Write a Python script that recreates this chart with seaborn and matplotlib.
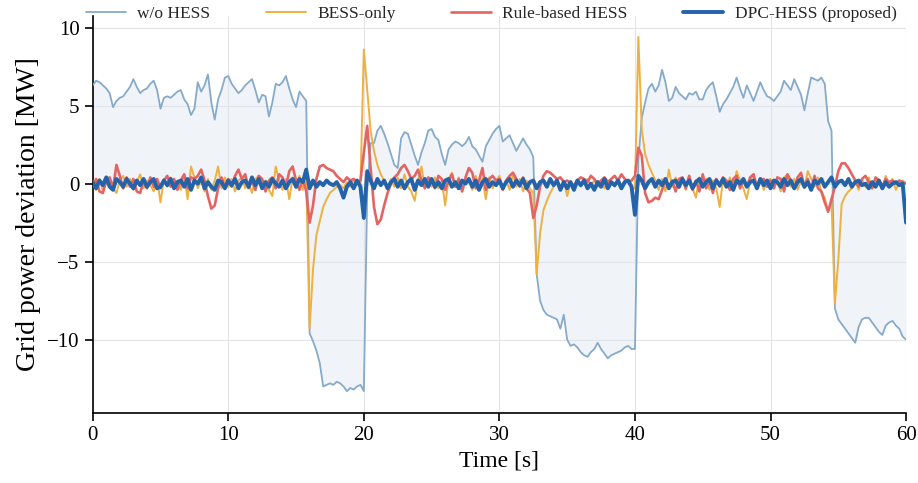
import numpy as np
import pandas as pd
import matplotlib
matplotlib.use("Agg")
import matplotlib.pyplot as plt
import seaborn as sns

# time grid (s), 0.25 s step
time_s = np.arange(0, 60.001, 0.25)

wo_hess = [
    6.3, 6.6, 6.5, 6.3, 6.1, 5.8, 4.9, 5.3, 5.5, 5.6, 5.9, 6.2, 6.7, 6.2, 5.8, 6.0, 6.1, 6.4, 6.6, 6.0,
    4.8, 5.5, 5.6, 5.5, 5.7, 5.9, 6.0, 5.4, 5.1, 4.4, 4.8, 6.5, 5.9, 6.3, 7.0, 5.2, 4.1, 5.4, 6.0, 6.8,
    6.9, 6.4, 6.1, 5.8, 6.0, 6.3, 6.5, 6.7, 6.0, 5.2, 5.7, 5.6, 4.3, 5.2, 6.4, 6.3, 6.5, 6.9, 6.1, 5.4,
    4.9, 5.9, 5.6, 5.3, -9.6, -10.1, -10.7, -11.5, -13.0, -12.9, -12.8, -12.9, -12.7, -12.8, -13.0, -13.3, -13.1, -13.2, -13.0, -12.9,
    -13.3, -0.5, 2.6, 2.6, 3.4, 3.7, 3.2, 2.6, 1.9, 1.2, 1.0, 2.9, 3.3, 3.2, 2.5, 1.8, 1.2, 2.0, 2.6, 3.4,
    3.5, 3.0, 2.8, 1.9, 1.2, 2.2, 2.5, 2.7, 2.6, 2.4, 2.6, 3.0, 2.4, 2.2, 1.8, 1.4, 2.4, 2.8, 3.2, 3.5,
    3.7, 2.7, 2.9, 3.1, 2.6, 2.1, 2.5, 2.9, 2.5, 2.2, 1.7, -5.8, -7.5, -8.1, -8.4, -8.5, -8.6, -8.7, -9.3, -8.4,
    -10.0, -10.4, -10.3, -10.5, -10.8, -11.0, -11.1, -10.8, -10.6, -10.2, -10.6, -10.9, -11.2, -11.0, -10.9, -10.8, -10.7, -10.5, -10.4, -10.6,
    -10.6, 1.5, 4.2, 5.2, 6.1, 6.4, 5.9, 6.3, 7.3, 6.5, 5.3, 5.5, 6.2, 5.8, 5.6, 5.4, 5.8, 5.7, 5.9, 5.4,
    5.4, 6.0, 6.3, 6.5, 5.6, 4.6, 5.1, 5.4, 5.8, 6.2, 6.8, 6.1, 5.5, 6.3, 5.8, 5.3, 5.9, 6.5, 6.0, 5.6,
    5.5, 5.3, 5.6, 5.9, 6.6, 6.3, 6.0, 6.7, 6.2, 5.7, 4.7, 5.8, 6.8, 6.7, 6.6, 6.8, 6.4, 4.0, 3.4, -8.0,
    -8.7, -9.0, -9.3, -9.6, -9.9, -10.2, -9.2, -8.7, -8.6, -8.6, -8.9, -9.2, -9.5, -9.7, -9.1, -8.9, -8.8, -9.1, -9.3, -9.8,
    -10.0,
]

bess_only = [
    0.2, -0.4, 0.3, -0.5, 0.1, 0.4, -0.3, -0.6, 0.2, 0.5, -0.2, 0.3, -0.4, 0.1, 0.6, -0.3, 0.2, -0.1, -0.5, 0.3,
    -1.2, 0.3, -0.2, 0.4, -0.3, 0.2, -0.4, 0.5, -1.0, 1.1, 0.4, -0.3, 0.2, -0.5, 0.3, -0.4, 0.2, 1.1, -0.3, 0.4,
    -0.2, 0.3, -0.5, 0.2, 0.4, -0.3, 0.1, -0.6, 0.3, 0.5, -0.2, 0.2, -0.4, -0.8, 1.1, 0.2, -0.4, 0.3, -1.0, 0.4,
    -0.3, 0.5, -0.4, 0.3, -9.3, -5.5, -3.3, -2.4, -1.5, -1.0, -0.6, -0.4, -0.2, -0.1, -0.3, 0.1, -0.2, 0.2, 0.1, -0.1,
    8.6, 6.0, 3.4, 2.1, 1.2, 0.6, 0.2, -0.3, 0.3, -0.2, 0.4, -0.3, 0.6, -0.2, -0.5, -1.1, 0.2, 1.1, -0.3, 0.3,
    -0.2, 0.4, -0.3, 0.2, -1.4, 0.3, 0.7, -0.2, 0.4, -0.5, 0.2, 0.3, -0.4, 0.5, -0.2, 0.3, -1.0, 0.4, -0.3, 0.2,
    0.5, -0.3, 0.2, -0.4, 0.6, -0.2, 0.3, -0.5, 0.2, -0.3, -0.6, -5.8, -3.2, -1.7, -1.1, -0.6, -0.2, 0.3, -0.3, 0.2,
    -0.8, 0.1, -0.3, 0.2, -0.2, 0.1, 0.3, -0.1, 0.2, -0.2, 0.1, -0.3, 0.2, 0.1, -0.2, 0.3, -0.1, 0.2, 0.1, -0.3,
    -0.3, 9.4, 3.5, 1.9, 1.2, 0.7, 0.2, -0.4, 0.3, -0.5, 0.9, -0.2, 0.4, -0.3, 0.2, -0.4, 0.5, -0.3, -0.9, 0.4,
    -0.2, 0.3, -0.4, 0.2, -0.3, -1.5, 0.3, -0.2, 0.4, -0.3, 0.8, 0.2, -0.3, -1.0, 0.2, 0.6, -0.2, 0.3, -0.4, 0.2,
    0.3, -0.3, 0.2, -0.5, 0.4, 0.6, -0.2, 0.3, -0.4, 0.2, -0.3, 0.8, 0.3, -0.2, 0.4, -0.5, -0.9, -1.8, -1.2, -7.7,
    -4.9, -1.3, -0.8, -0.5, -0.3, 0.2, -0.4, 0.3, -0.2, 0.4, -0.3, 0.2, 0.1, -0.3, 0.5, -0.2, 0.3, -0.4, 0.1, 0.2,
    0.0,
]

rule_hess = [
    -0.2, 0.3, -0.5, -0.6, 0.2, 0.4, -0.3, 1.2, 0.5, -0.3, 0.4, -0.2, 0.3, -0.5, -0.6, 0.2, -0.3, 0.4, -0.2, 0.3,
    -0.3, 0.2, 0.5, -0.2, 0.3, -0.4, 0.2, 0.6, -0.3, 0.4, 0.3, 0.5, 0.9, 0.2, -0.8, -1.6, -1.4, -0.3, 0.4, -0.2,
    0.3, -0.2, 0.5, 0.9, 0.3, 0.6, -0.3, 0.2, -0.4, 0.5, 0.3, -0.5, 0.2, 0.4, -0.3, 0.6, 0.4, -0.2, 0.8, 1.1,
    0.2, -0.4, 0.3, -0.5, -2.5, -1.4, 0.3, 1.1, 1.2, 1.0, 0.9, 0.8, 0.5, 0.3, 0.1, 0.4, 0.2, 0.3, 0.1, 0.2,
    2.0, 3.7, 1.0, -1.5, -2.6, -2.3, -1.4, -0.6, 0.0, 0.4, 0.6, 1.0, 1.2, 0.8, 0.3, 0.5, 0.9, 0.2, -0.3, 0.4,
    0.2, -0.3, 0.5, 0.3, -0.4, 0.2, 0.6, -0.2, 0.3, -0.5, 0.4, 1.0, 0.7, -0.3, 0.2, 1.0, -0.4, 0.3, 0.5, 0.2,
    0.3, -0.4, 0.2, 0.5, 0.7, 0.3, -0.2, 0.4, -0.3, -0.6, -2.2, -1.4, -0.2, 0.5, 0.8, 0.7, 0.5, 0.3, 0.4, 0.1,
    0.2, 0.0, -0.1, 0.2, 0.4, 0.3, 0.1, 0.5, 0.3, 0.0, 0.2, 0.4, 0.1, 0.3, 0.5, 0.2, 0.6, 0.3, 0.1, 0.2,
    0.5, 2.3, 1.8, -0.6, -1.2, -1.1, -0.9, -1.0, -0.4, 0.3, -0.2, 0.2, -0.5, 0.3, 0.4, -0.3, 0.5, -0.4, 0.2, -0.5,
    0.6, -0.3, 0.2, -0.6, 0.3, -0.2, 0.4, 0.2, -0.4, 0.3, 0.5, -0.3, 0.2, -0.2, 0.4, 0.6, -0.3, 0.2, 0.3, -0.2,
    0.2, -0.3, 0.4, 0.3, -0.5, 0.6, 0.2, -0.3, 0.4, 0.7, -0.2, 0.3, -0.4, 0.5, -0.3, -0.5, -1.2, -1.8, -1.0, -0.2,
    0.8, 1.3, 1.3, 1.0, 0.6, 0.2, -0.2, 0.3, 0.5, 0.1, -0.3, 0.4, 0.2, -0.2, 0.3, 0.1, 0.2, 0.0, 0.2, 0.1,
    0.0,
]

dpc_hess = [
    0.1, -0.3, 0.2, -0.1, 0.4, -0.2, -0.4, 0.3, 0.1, -0.2, 0.3, 0.0, -0.3, 0.2, -0.1, 0.3, -0.2, 0.1, 0.3, -0.3,
    -0.2, 0.2, -0.1, 0.3, -0.3, 0.1, 0.2, -0.2, 0.3, -0.4, 0.2, 0.0, 0.4, -0.3, 0.1, -0.2, -0.4, 0.2, 0.1, -0.3,
    0.2, -0.1, 0.3, -0.3, 0.1, 0.2, -0.2, 0.4, -0.1, 0.3, -0.3, 0.1, -0.2, 0.3, 0.0, -0.2, 0.2, -0.3, 0.1, 0.3,
    -0.2, 0.3, 0.1, 0.9, -0.3, 0.2, -0.2, 0.1, -0.1, 0.2, 0.0, -0.1, 0.1, -0.3, -0.9, -0.2, 0.1, -0.3, 0.2, -0.2,
    -2.2, 0.8, 0.2, -0.3, 0.3, -0.1, 0.2, -0.3, 0.1, 0.3, -0.2, 0.2, -0.3, 0.1, 0.3, -0.4, 0.2, -0.1, 0.3, -0.2,
    0.3, -0.2, 0.1, -0.3, 0.2, 0.3, -0.2, 0.1, -0.3, 0.2, 0.0, 0.3, -0.2, 0.2, -0.4, 0.1, 0.3, -0.2, 0.1, -0.1,
    0.2, -0.3, 0.1, 0.3, -0.2, 0.2, -0.1, 0.3, -0.3, 0.1, 0.2, -0.3, 0.1, 0.2, -0.2, 0.3, -0.1, 0.2, -0.4, 0.1,
    -0.3, 0.1, -0.4, 0.2, -0.1, 0.2, -0.3, 0.0, -0.4, 0.1, -0.2, 0.3, -0.3, 0.1, -0.1, 0.2, -0.3, 0.1, 0.2, -0.2,
    -2.0, 0.5, 0.2, -0.3, 0.1, 0.3, -0.2, 0.2, -0.1, 0.3, -0.3, 0.1, 0.2, -0.2, 0.3, -0.1, 0.2, -0.3, 0.1, 0.3,
    -0.2, 0.1, 0.3, -0.3, 0.2, -0.1, 0.3, -0.2, 0.1, -0.4, 0.2, 0.0, 0.3, -0.2, 0.1, 0.2, -0.3, 0.3, -0.1, 0.2,
    -0.3, 0.2, 0.1, -0.2, 0.3, -0.1, 0.2, -0.3, 0.1, 0.3, -0.2, 0.1, -0.4, 0.2, 0.0, 0.3, -0.2, 0.1, 0.4, -0.2,
    0.1, 0.2, -0.1, 0.3, -0.2, 0.1, 0.2, -0.1, 0.0, -0.3, 0.1, -0.2, 0.2, -0.3, 0.1, -0.2, 0.0, 0.1, -0.1, 0.0,
    -2.5,
]

series_labels = ["w/o HESS", "BESS-only", "Rule-based HESS", "DPC-HESS (proposed)"]
x_ticks = [0, 10, 20, 30, 40, 50, 60]
y_ticks = [-10, -5, 0, 5, 10]

sns.set_theme(style="ticks")
plt.rcParams["font.family"] = ["Liberation Serif", "DejaVu Serif"]

colors = ["#86aacb", "#eeb040", "#e46464", "#2463aa"]
widths = [1.3, 1.4, 1.9, 2.8]

fig = plt.figure(figsize=(9.18, 4.83), dpi=100)
ax = fig.add_axes([0.101, 0.145, 0.886, 0.822])

ax.fill_between(time_s, 0, wo_hess, color="#dbe5ef", alpha=0.4, lw=0, zorder=1)

for vals, lab, c, w in zip([wo_hess, bess_only, rule_hess, dpc_hess], series_labels, colors, widths):
    d = pd.DataFrame({"t": time_s, "v": vals})
    sns.lineplot(data=d, x="t", y="v", ax=ax, color=c, lw=w, label=lab, zorder=3)

ax.set_xlim(0, 60)
ax.set_ylim(-14.7, 10.75)
ax.set_xticks(x_ticks)
ax.set_yticks(y_ticks)
ax.set_yticklabels([f"{v}".replace("-", "\u2212") for v in y_ticks])
ax.grid(True, color="#e4e4e4", lw=0.8, zorder=0)
ax.set_axisbelow(True)
for s in ["top", "right"]:
    ax.spines[s].set_visible(False)
for s in ["left", "bottom"]:
    ax.spines[s].set_color("black")
    ax.spines[s].set_linewidth(1.2)
ax.tick_params(axis="both", labelsize=15, length=6, width=1.2, color="black", direction="out", labelcolor="black")
ax.set_xlabel("Time [s]", fontsize=17, color="black", labelpad=4)
ax.set_ylabel("Grid power deviation [MW]", fontsize=20, color="black", labelpad=4)

leg = ax.legend(loc="center", bbox_to_anchor=(0.49, 1.005), ncol=4, frameon=False, fontsize=12.5,
                handlelength=2.3, columnspacing=3.2, handletextpad=0.65, borderaxespad=0)
leg.set_zorder(10)

fig.savefig("out.png", dpi=100, facecolor="white")
